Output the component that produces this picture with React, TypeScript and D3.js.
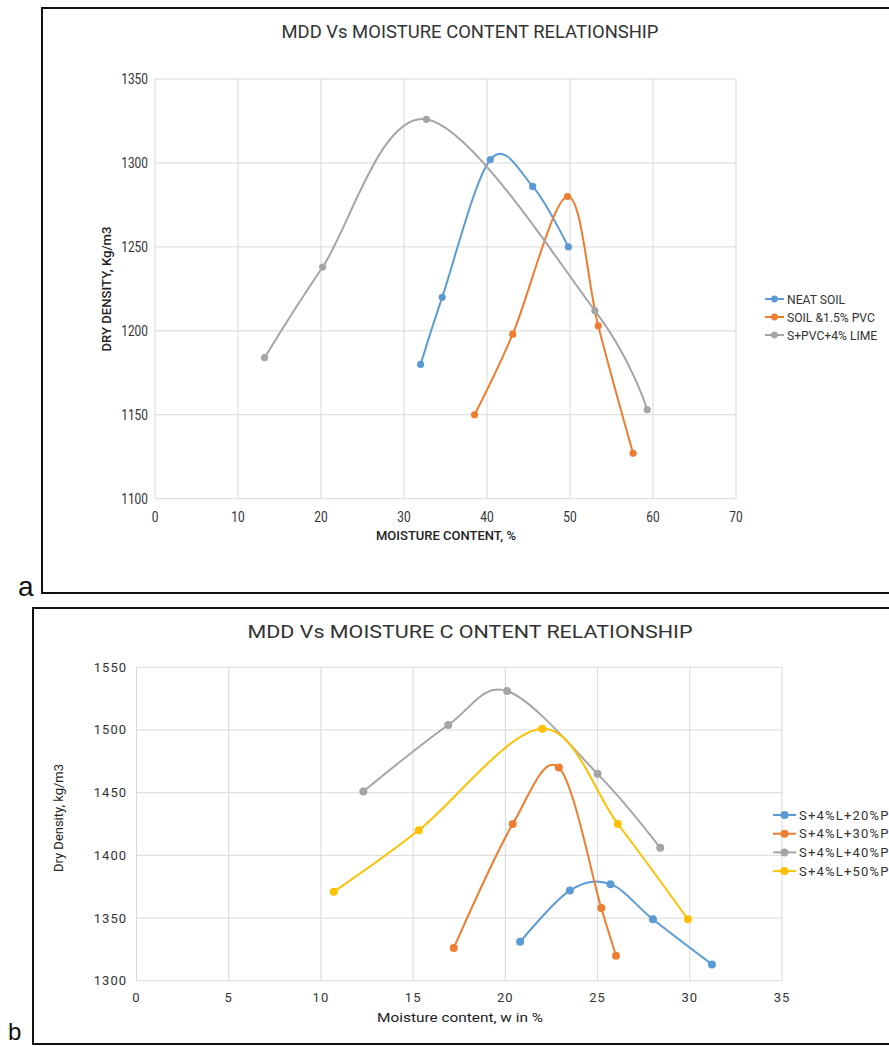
import { useMemo } from 'react';
import * as d3 from 'd3';

// chart a: MDD vs moisture content
const neatSoilX = [32.0, 34.6, 40.4, 45.5, 49.8];
const neatSoilY = [1180, 1220, 1302, 1286, 1250];
const pvcX = [38.5, 43.1, 49.7, 53.4, 57.6];
const pvcY = [1150, 1198, 1280, 1203, 1127];
const limeX = [13.2, 20.2, 32.7, 53.0, 59.3];
const limeY = [1184, 1238, 1326, 1212, 1153];
const topNames = ['NEAT SOIL', 'SOIL &1.5% PVC', 'S+PVC+4% LIME'];
const topXTicks = [0, 10, 20, 30, 40, 50, 60, 70];
const topYTicks = [1100, 1150, 1200, 1250, 1300, 1350];

// chart b
const p20X = [20.8, 23.5, 25.7, 28.0, 31.2];
const p20Y = [1331, 1372, 1377, 1349, 1313];
const p30X = [17.2, 20.4, 22.9, 25.2, 26.0];
const p30Y = [1326, 1425, 1470, 1358, 1320];
const p40X = [12.3, 16.9, 20.1, 25.0, 28.4];
const p40Y = [1451, 1504, 1531, 1465, 1406];
const p50X = [10.7, 15.3, 22.0, 26.1, 29.9];
const p50Y = [1371, 1420, 1501, 1425, 1349];
const botNames = ['S+4%L+20%P', 'S+4%L+30%P', 'S+4%L+40%P', 'S+4%L+50%P'];
const botXTicks = [0, 5, 10, 15, 20, 25, 30, 35];
const botYTicks = [1300, 1350, 1400, 1450, 1500, 1550];

const colors = ['#5B9BD5', '#ED7D31', '#A5A5A5', '#FFC000'];
const grid = '#d9d9d9';
const ink = '#333';

type Series = { name: string; xs: number[]; ys: number[]; color: string };

function Plot({ series, xDomain, yDomain, xTicks, yTicks, left, right, top, bottom, r }: any) {
  const x = d3.scaleLinear().domain(xDomain).range([left, right]);
  const y = d3.scaleLinear().domain(yDomain).range([bottom, top]);
  const line = d3
    .line<[number, number]>()
    .x((d) => x(d[0]))
    .y((d) => y(d[1]))
    .curve(d3.curveCatmullRom.alpha(0));

  return (
    <g>
      {xTicks.map((t: number) => (
        <line key={'vx' + t} x1={x(t)} x2={x(t)} y1={top} y2={bottom} stroke={grid} />
      ))}
      {yTicks.map((t: number) => (
        <line key={'hy' + t} x1={left} x2={right} y1={y(t)} y2={y(t)} stroke={grid} />
      ))}
      {series.map((s: Series) => {
        const pts = s.xs.map((v, i) => [v, s.ys[i]] as [number, number]);
        return (
          <g key={s.name}>
            <path d={line(pts) || ''} fill="none" stroke={s.color} strokeWidth={2} />
            {pts.map((p, i) => (
              <circle key={i} cx={x(p[0])} cy={y(p[1])} r={r} fill={s.color} />
            ))}
          </g>
        );
      })}
    </g>
  );
}

export default function App() {
  const topSeries: Series[] = useMemo(
    () => [
      { name: topNames[0], xs: neatSoilX, ys: neatSoilY, color: colors[0] },
      { name: topNames[1], xs: pvcX, ys: pvcY, color: colors[1] },
      { name: topNames[2], xs: limeX, ys: limeY, color: colors[2] },
    ],
    []
  );
  const botSeries: Series[] = useMemo(
    () => [
      { name: botNames[0], xs: p20X, ys: p20Y, color: colors[0] },
      { name: botNames[1], xs: p30X, ys: p30Y, color: colors[1] },
      { name: botNames[2], xs: p40X, ys: p40Y, color: colors[2] },
      { name: botNames[3], xs: p50X, ys: p50Y, color: colors[3] },
    ],
    []
  );

  // chart a geometry
  const ta = { left: 155, right: 736, top: 79, bottom: 498.7 };
  const xa = d3.scaleLinear().domain([0, 70]).range([ta.left, ta.right]);
  const ya = d3.scaleLinear().domain([1100, 1350]).range([ta.bottom, ta.top]);
  // chart b geometry
  const tb = { left: 136.5, right: 782, top: 667.3, bottom: 980.7 };
  const xb = d3.scaleLinear().domain([0, 35]).range([tb.left, tb.right]);
  const yb = d3.scaleLinear().domain([1300, 1550]).range([tb.bottom, tb.top]);

  const cond = (x: number, y: number, s = 0.85) => `translate(${x},${y}) scale(${s},1)`;

  return (
    <svg
      width={889}
      height={1047}
      style={{ position: 'absolute', left: 0, top: 0, background: '#fff' }}
      fontFamily="Roboto, sans-serif"
    >
      <rect x={0} y={0} width={889} height={1047} fill="#fff" />

      {/* panel a */}
      <rect x={42} y={8} width={900} height={585} fill="none" stroke="#111" strokeWidth={2} />
      <text x={470} y={38} textAnchor="middle" fontSize={18} fill={ink} textLength={377} lengthAdjust="spacingAndGlyphs">
        MDD Vs MOISTURE CONTENT RELATIONSHIP
      </text>
      <Plot series={topSeries} xDomain={[0, 70]} yDomain={[1100, 1350]} xTicks={topXTicks} yTicks={topYTicks} r={3.6} {...ta} />
      {topYTicks.map((t) => (
        <text key={t} transform={cond(148, ya(t) + 5)} textAnchor="end" fontSize={14} fill={ink}>
          {t}
        </text>
      ))}
      {topXTicks.map((t) => (
        <text key={t} transform={cond(xa(t), 522)} textAnchor="middle" fontSize={14} fill={ink}>
          {t}
        </text>
      ))}
      <text x={446} y={540} textAnchor="middle" fontSize={12.5} fontWeight={500} fill="#222" textLength={140} lengthAdjust="spacingAndGlyphs">
        MOISTURE CONTENT, %
      </text>
      <text transform="translate(111,289) rotate(-90)" textAnchor="middle" fontSize={12.5} fontWeight={500} fill="#222" textLength={125} lengthAdjust="spacingAndGlyphs">
        DRY DENSITY, Kg/m3
      </text>
      {topSeries.map((s, i) => {
        const ly = 299 + i * 18;
        return (
          <g key={s.name}>
            <line x1={765} x2={784} y1={ly} y2={ly} stroke={s.color} strokeWidth={2} />
            <circle cx={774.5} cy={ly} r={3.4} fill={s.color} />
            <text transform={cond(787, ly + 4.5, 0.9)} fontSize={13.5} fill={ink}>
              {s.name}
            </text>
          </g>
        );
      })}
      <text x={18} y={596} fontSize={28} fontFamily="Liberation Sans, Arial, sans-serif" fill="#111">
        a
      </text>

      {/* panel b */}
      <rect x={33} y={608} width={900} height={436} fill="none" stroke="#111" strokeWidth={2} />
      <text x={470} y={638} textAnchor="middle" fontSize={18} fill={ink} textLength={445} lengthAdjust="spacingAndGlyphs">
        MDD Vs MOISTURE C ONTENT RELATIONSHIP
      </text>
      <Plot series={botSeries} xDomain={[0, 35]} yDomain={[1300, 1550]} xTicks={botXTicks} yTicks={botYTicks} r={4} {...tb} />
      {botYTicks.map((t) => (
        <text key={t} x={127} y={yb(t) + 4.5} textAnchor="end" fontSize={13} letterSpacing={1} fill={ink}>
          {t}
        </text>
      ))}
      {botXTicks.map((t) => (
        <text key={t} x={xb(t)} y={1002} textAnchor="middle" fontSize={13} letterSpacing={1} fill={ink}>
          {t}
        </text>
      ))}
      <text x={460} y={1022} textAnchor="middle" fontSize={13} fill="#222" textLength={166} lengthAdjust="spacingAndGlyphs">
        Moisture content, w  in %
      </text>
      <text transform="translate(63,818) rotate(-90)" textAnchor="middle" fontSize={13} fill="#222" textLength={108} lengthAdjust="spacingAndGlyphs">
        Dry Density, kg/m3
      </text>
      {botSeries.map((s, i) => {
        const ly = 815 + i * 18.7;
        return (
          <g key={s.name}>
            <line x1={773} x2={796} y1={ly} y2={ly} stroke={s.color} strokeWidth={2} />
            <circle cx={784.5} cy={ly} r={4} fill={s.color} />
            <text x={799} y={ly + 4.5} fontSize={13} letterSpacing={1.2} fill={ink}>
              {s.name}
            </text>
          </g>
        );
      })}
      <text x={8} y={1040} fontSize={24} fontFamily="Liberation Sans, Arial, sans-serif" fill="#111">
        b
      </text>
    </svg>
  );
}
